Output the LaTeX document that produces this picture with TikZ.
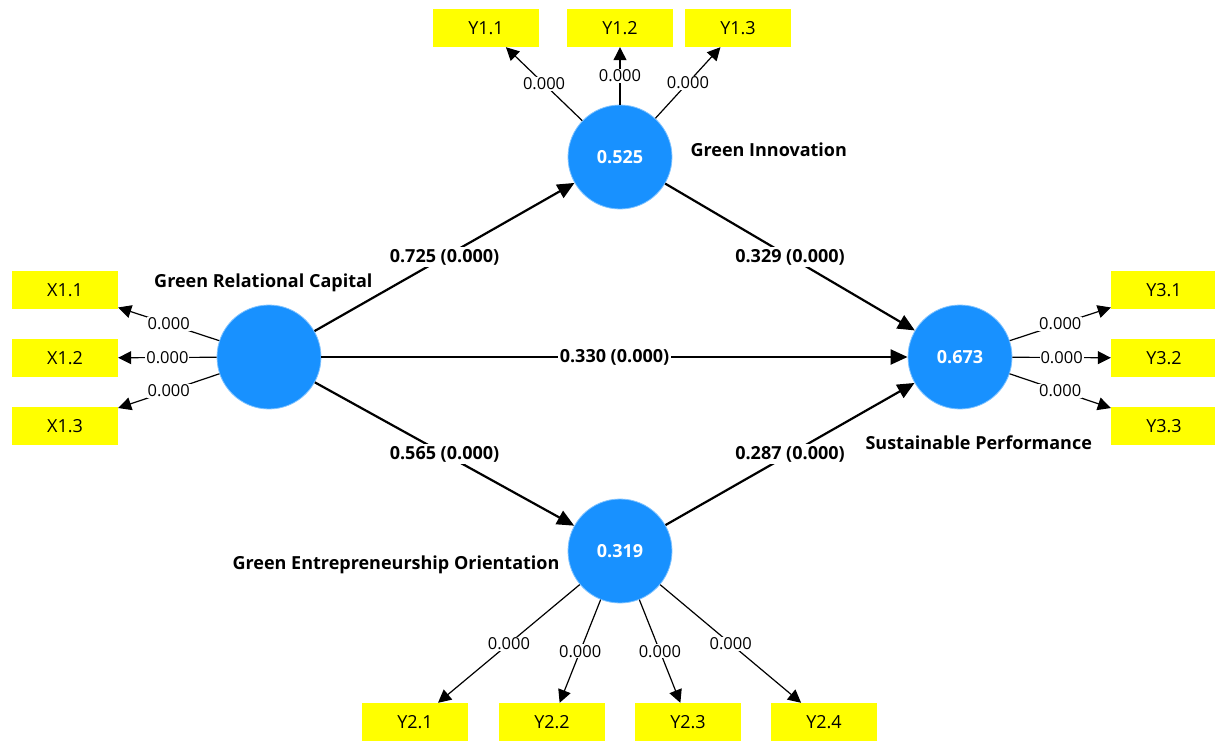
\documentclass[tikz,border=0pt]{standalone}
\usepackage{fontspec}
\setmainfont{Open Sans}
\usetikzlibrary{arrows.meta}

\newcommand{\pathLineWidth}{2.2pt}
\newcommand{\loadLineWidth}{1.2pt}
\newcommand{\latentSize}{104pt}
\definecolor{latentBlue}{RGB}{24,145,255}
\definecolor{itemYellow}{RGB}{255,255,0}

\tikzset{
  latent/.style={circle, fill=latentBlue, draw=latentBlue!55!white, line width=0.8pt,
    minimum size=\latentSize, inner sep=0pt, text=white, font=\bfseries\fontsize{18}{20}\selectfont},
  item/.style={rectangle, fill=itemYellow, minimum width=106pt, minimum height=38pt,
    inner sep=0pt, font=\fontsize{18}{20}\selectfont},
  construct/.style={font=\bfseries\fontsize{18}{20}\selectfont},
  pathArrow/.style={line width=\pathLineWidth, -{Triangle[length=17pt,width=15pt]}},
  loadArrow/.style={line width=\loadLineWidth, -{Triangle[length=13pt,width=13pt]}},
  pathLabel/.style={fill=white, inner sep=2pt, font=\bfseries\fontsize{18}{20}\selectfont},
  loadLabel/.style={fill=white, inner sep=1pt, font=\fontsize{16.5}{18}\selectfont},
}

\begin{document}
\begin{tikzpicture}[x=1pt,y=-1pt]
        \useasboundingbox (0,0) rectangle (1215,740);

        % Latent variables
        \node[latent] (grc) at (269,357) {};
        \node[latent] (gi) at (620,157) {0.525};
        \node[latent] (sp) at (960,357) {0.673};
        \node[latent] (geo) at (620,551) {0.319};

        % Names of latent variables
        \node[construct, anchor=west] (giName) at (687,150) {Green Innovation};
        \node[construct, anchor=east] (grcName) at (376,283) {Green Relational Capital};
        \node[construct, anchor=west] (spName) at (862,443) {Sustainable Performance};
        \node[construct, anchor=east] (geoName) at (563,565) {Green Entrepreneurship Orientation};

        % Indicators
        \node[item] (y11) at (486,28) {Y1.1};
        \node[item] (y12) at (620,28) {Y1.2};
        \node[item] (y13) at (738,28) {Y1.3};
        \node[item] (x11) at (65,290) {X1.1};
        \node[item] (x12) at (65,358) {X1.2};
        \node[item] (x13) at (65,426) {X1.3};
        \node[item] (y31) at (1164,290) {Y3.1};
        \node[item] (y32) at (1164,358) {Y3.2};
        \node[item] (y33) at (1164,426) {Y3.3};
        \node[item] (y21) at (415,722) {Y2.1};
        \node[item] (y22) at (552,722) {Y2.2};
        \node[item] (y23) at (688,722) {Y2.3};
        \node[item] (y24) at (824,722) {Y2.4};

        % Structural paths
        \draw[pathArrow] (grc) -- node[pathLabel] {0.725 (0.000)} (gi);
        \draw[pathArrow] (gi) -- node[pathLabel] {0.329 (0.000)} (sp);
        \draw[pathArrow] (grc) -- node[pathLabel] {0.330 (0.000)} (sp);
        \draw[pathArrow] (grc) -- node[pathLabel] {0.565 (0.000)} (geo);
        \draw[pathArrow] (geo) -- node[pathLabel] {0.287 (0.000)} (sp);

        % Outer loadings
        \foreach \ind in {y11,y12,y13}
            \draw[loadArrow] (gi) -- node[loadLabel] {0.000} (\ind);
        \foreach \ind in {x11,x12,x13}
            \draw[loadArrow] (grc) -- node[loadLabel] {0.000} (\ind);
        \foreach \ind in {y31,y32,y33}
            \draw[loadArrow] (sp) -- node[loadLabel] {0.000} (\ind);
        \foreach \ind in {y21,y22,y23,y24}
            \draw[loadArrow] (geo) -- node[loadLabel] {0.000} (\ind);
\end{tikzpicture}
\end{document}
